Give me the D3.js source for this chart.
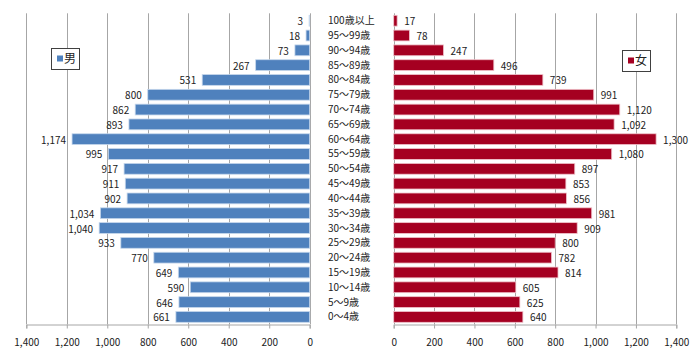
<!DOCTYPE html>
<html><head><meta charset="utf-8">
<script src="https://cdn.jsdelivr.net/npm/d3@7"></script>
<style>
html,body{margin:0;padding:0;background:#fff;}
svg{display:block;}
text{font-family:"Noto Sans CJK JP","Noto Sans",sans-serif;fill:#222;}
</style></head>
<body>
<svg id="c" width="700" height="357"></svg>
<script>
const categories = ["100歳以上","95～99歳","90～94歳","85～89歳","80～84歳","75～79歳","70～74歳","65～69歳","60～64歳","55～59歳","50～54歳","45～49歳","40～44歳","35～39歳","30～34歳","25～29歳","20～24歳","15～19歳","10～14歳","5～9歳","0～4歳"];
const male   = [3,18,73,267,531,800,862,893,1174,995,917,911,902,1034,1040,933,770,649,590,646,661];
const female = [17,78,247,496,739,991,1120,1092,1300,1080,897,853,856,981,909,800,782,814,605,625,640];
const tickValues = [0,200,400,600,800,1000,1200,1400];
const seriesNames = ["男","女"];

(function(){
const svg = d3.select("#c");
const plotTop = 13.3, plotBottom = 324.3;
const fmt = d3.format(",");
const gridColor = "#a6a6a6";

const y = d3.scaleBand().domain(categories).range([plotTop, plotBottom]).paddingInner(0.27).paddingOuter(0.135);
const xL = d3.scaleLinear().domain([0,1400]).range([309.7, 26.3]);
const xR = d3.scaleLinear().domain([0,1400]).range([393.7, 676.3]);

function panel(x, values, color, stroke, side){
  const g = svg.append("g");
  g.selectAll("line.grid").data(tickValues).join("line")
    .attr("x1", d=>Math.round(x(d))+0.5).attr("x2", d=>Math.round(x(d))+0.5)
    .attr("y1", plotTop).attr("y2", plotBottom)
    .attr("stroke", gridColor).attr("stroke-width",1);
  const axis = d3.axisBottom(x).tickValues(tickValues).tickFormat(fmt).tickSize(4).tickPadding(10);
  const ag = g.append("g").attr("transform", `translate(0,${Math.round(plotBottom)+0.5})`).call(axis);
  ag.select(".domain").attr("stroke", gridColor);
  ag.selectAll(".tick line").attr("stroke", gridColor);
  ag.selectAll(".tick text").attr("font-size", 10).style("font-family","'Noto Sans CJK JP','Noto Sans',sans-serif").attr("fill","#222");
  g.selectAll("rect.bar").data(values).join("rect")
    .attr("x", d=> Math.min(x(0), x(d)))
    .attr("y", (d,i)=> y(categories[i]))
    .attr("width", d=> Math.abs(x(d)-x(0)))
    .attr("height", y.bandwidth())
    .attr("fill", color).attr("stroke", stroke).attr("stroke-width", 0.8);
  g.selectAll("text.lab").data(values).join("text")
    .attr("x", d=> side==="L" ? x(d)-6 : x(d)+7)
    .attr("y", (d,i)=> y(categories[i]) + y.bandwidth()/2 + 1)
    .attr("dy","0.35em")
    .attr("text-anchor", side==="L" ? "end" : "start")
    .attr("font-size", 10)
    .text(d=>fmt(d));
}
panel(xL, male, "#4f81bd", "#c6d7ec", "L");
panel(xR, female, "#a50021", "#f0c4cc", "R");

svg.append("g").selectAll("text").data(categories).join("text")
  .attr("x", 328).attr("y", d=> y(d)+y.bandwidth()/2)
  .attr("dy","0.35em").attr("font-size",10).text(d=>d);

function legend(x0,y0,w,h,color,label){
  const g = svg.append("g");
  g.append("rect").attr("x",x0+0.5).attr("y",y0+0.5).attr("width",w).attr("height",h)
    .attr("fill","#fff").attr("stroke","#404040").attr("stroke-width",1);
  g.append("rect").attr("x",x0+6).attr("y",y0+h/2-3).attr("width",6).attr("height",6).attr("fill",color);
  g.append("text").attr("x",x0+13).attr("y",y0+h/2).attr("dy","0.36em").attr("font-size",12).text(label);
}
legend(51,48,28,21,"#4f81bd",seriesNames[0]);
legend(622,50,28,21,"#a50021",seriesNames[1]);
})();
</script>
</body></html>
